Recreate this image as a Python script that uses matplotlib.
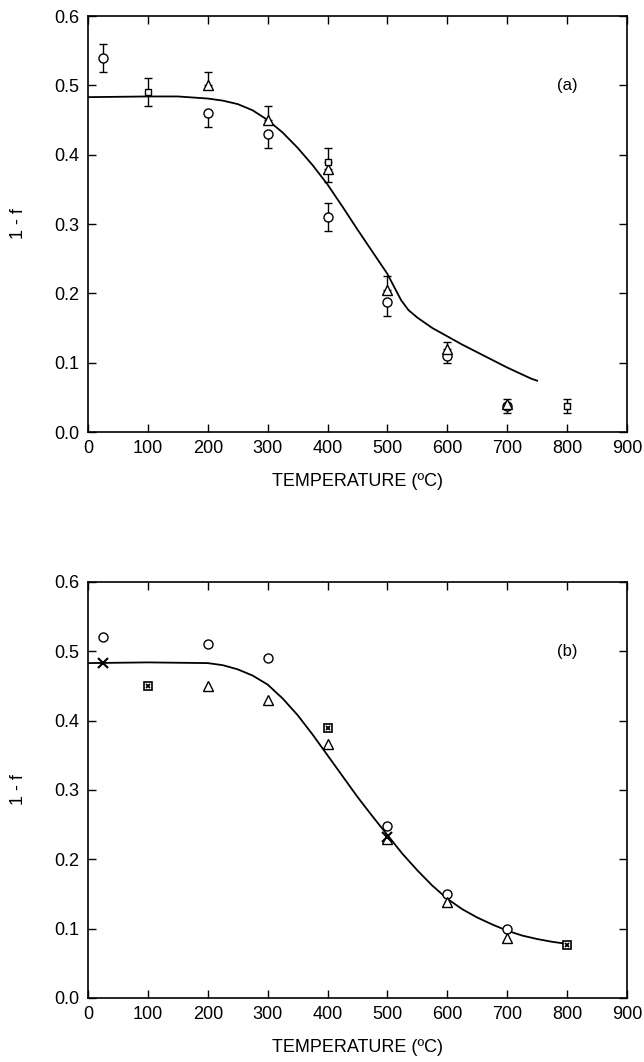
import matplotlib.pyplot as plt

plt.rcParams['font.family'] = ['Liberation Sans', 'DejaVu Sans']

# panel (a): measured points with error bars
a_circ_t = [25, 200, 300, 400, 500, 600, 700]
a_circ_y = [0.54, 0.46, 0.43, 0.31, 0.187, 0.11, 0.037]
a_circ_lo = [0.02, 0.02, 0.02, 0.02, 0.02, 0.01, 0.01]
a_circ_hi = [0.02, 0.0, 0.0, 0.02, 0.0, 0.0, 0.01]

a_tri_t = [200, 300, 400, 500, 600, 700]
a_tri_y = [0.50, 0.45, 0.38, 0.205, 0.12, 0.04]
a_tri_lo = [0.0, 0.0, 0.02, 0.0, 0.0, 0.0]
a_tri_hi = [0.02, 0.02, 0.0, 0.02, 0.01, 0.0]

a_sq_t = [100, 400, 800]
a_sq_y = [0.49, 0.39, 0.037]
a_sq_lo = [0.02, 0.0, 0.01]
a_sq_hi = [0.02, 0.02, 0.01]

a_fit_t = [0, 100, 150, 200, 225, 250, 275, 300, 325, 350, 375, 400, 425,
           450, 475, 500, 512, 523, 535, 550, 575, 600, 625, 650, 675, 700,
           725, 740, 750]
a_fit_y = [0.483, 0.484, 0.484, 0.481, 0.478, 0.473, 0.464, 0.450, 0.432,
           0.410, 0.385, 0.357, 0.325, 0.292, 0.260, 0.228, 0.208, 0.190,
           0.176, 0.165, 0.150, 0.138, 0.126, 0.115, 0.104, 0.093, 0.083,
           0.077, 0.074]

# panel (b)
b_circ_t = [25, 200, 300, 500, 600, 700]
b_circ_y = [0.52, 0.51, 0.49, 0.248, 0.15, 0.099]
b_tri_t = [200, 300, 400, 500, 600, 700]
b_tri_y = [0.45, 0.43, 0.367, 0.23, 0.138, 0.086]
b_x_t = [25, 500]
b_x_y = [0.483, 0.232]
b_box_t = [100, 400, 800]
b_box_y = [0.45, 0.39, 0.077]

b_fit_t = [0, 100, 200, 225, 250, 275, 300, 325, 350, 375, 400, 425, 450,
           475, 500, 525, 550, 575, 600, 625, 650, 675, 700, 725, 750, 775, 800]
b_fit_y = [0.483, 0.484, 0.483, 0.480, 0.474, 0.465, 0.452, 0.432, 0.408,
           0.380, 0.350, 0.320, 0.290, 0.262, 0.235, 0.208, 0.184, 0.162,
           0.143, 0.128, 0.116, 0.106, 0.097, 0.090, 0.085, 0.081, 0.078]

xticks = [0, 100, 200, 300, 400, 500, 600, 700, 800, 900]
yticks = [0.0, 0.1, 0.2, 0.3, 0.4, 0.5, 0.6]


def style_axes(ax, tag):
    ax.set_xlim(0, 900)
    ax.set_ylim(0, 0.6)
    ax.set_xticks(xticks)
    ax.set_yticks(yticks)
    ax.set_yticklabels([f"{v:.1f}" for v in yticks])
    ax.tick_params(direction='in', top=True, right=True, length=6, width=1,
                   labelsize=13, pad=6)
    for s in ax.spines.values():
        s.set_linewidth(1.2)
    ax.set_xlabel('TEMPERATURE (ºC)', fontsize=13, labelpad=11)
    ax.set_ylabel('1 - f', fontsize=13, labelpad=20)
    ax.text(800, 0.5, tag, fontsize=12, ha='center', va='center')


fig = plt.figure(figsize=(6.44, 10.62), dpi=100)
ax1 = fig.add_axes([0.1366, 0.5932, 0.837, 0.3917])
ax2 = fig.add_axes([0.1366, 0.0603, 0.837, 0.3917])

mk = dict(mfc='white', mec='black', color='black', ls='none', mew=1.0,
          ecolor='black', elinewidth=1.0, capsize=3, capthick=1.0)

ax1.plot(a_fit_t, a_fit_y, color='black', lw=1.3)
ax1.errorbar(a_circ_t, a_circ_y, yerr=[a_circ_lo, a_circ_hi], fmt='o', ms=6.5, **mk)
ax1.errorbar(a_tri_t, a_tri_y, yerr=[a_tri_lo, a_tri_hi], fmt='^', ms=7, **mk)
ax1.errorbar(a_sq_t, a_sq_y, yerr=[a_sq_lo, a_sq_hi], fmt='s', ms=5, **mk)
style_axes(ax1, '(a)')

ax2.plot(b_fit_t, b_fit_y, color='black', lw=1.3)
ax2.plot(b_circ_t, b_circ_y, 'o', ms=6.5, mfc='white', mec='black', mew=1.0)
ax2.plot(b_tri_t, b_tri_y, '^', ms=7, mfc='white', mec='black', mew=1.0)
ax2.plot(b_x_t, b_x_y, 'x', ms=7, color='black', mew=1.5)
ax2.plot(b_box_t, b_box_y, 's', ms=5.5, mfc='white', mec='black', mew=1.2)
ax2.plot(b_box_t, b_box_y, 'x', ms=3.5, color='black', mew=1.3)
style_axes(ax2, '(b)')

fig.savefig('out.png', dpi=100)
